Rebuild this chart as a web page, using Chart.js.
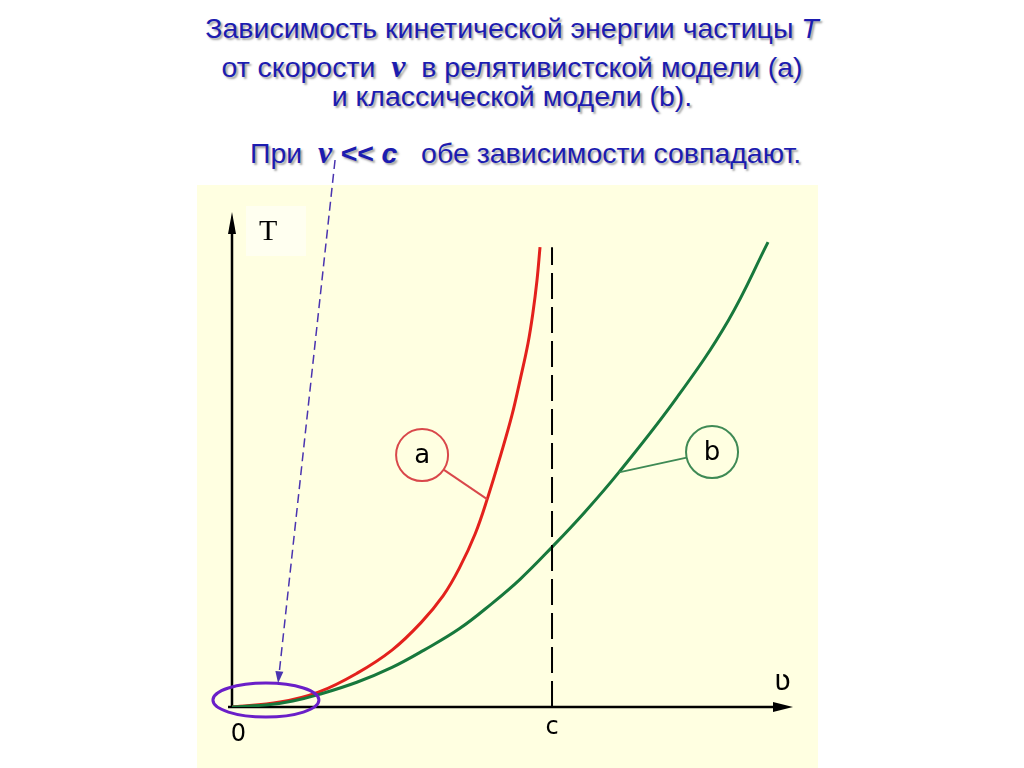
<!DOCTYPE html>
<html>
<head>
<meta charset="utf-8">
<script src="https://cdn.jsdelivr.net/npm/chart.js@4"></script>
<style>
  html, body { margin: 0; padding: 0; background: #fff; }
  body { width: 1024px; height: 768px; position: relative; overflow: hidden; font-family: "Liberation Sans", Arial, sans-serif; }
  .panel { position: absolute; left: 197px; top: 185px; width: 621px; height: 583px; background: #ffffe1; }
  .tbox { position: absolute; left: 246px; top: 206px; width: 60px; height: 50px; background: #fffff0; }
  .ttl { position: absolute; left: 0; width: 1024px; text-align: center; color: #1c1cb0; font-size: 28.5px;
         text-shadow: 2px 2px 2px rgba(90,90,90,0.55); white-space: nowrap; }
  .sv { font-family: "Liberation Serif", serif; font-style: italic; font-weight: bold; font-size: 32px; }
  .sc { font-style: italic; font-weight: bold; }
  canvas { position: absolute; left: 0; top: 0; }
</style>
</head>
<body>
<div class="panel"></div>
<div class="tbox"></div>
<div class="ttl" style="top:12px">Зависимость кинетической энергии частицы <i>T</i></div>
<div class="ttl" style="top:48px">от скорости &nbsp;<span class="sv">v</span>&nbsp; в релятивистской модели (а)</div>
<div class="ttl" style="top:80px">и классической модели (b).</div>
<div class="ttl" style="top:134px; left:250px; width:auto; text-align:left">При &nbsp;<span class="sv">v</span> <span class="sc">&lt;&lt; c</span> &nbsp; обе зависимости совпадают.</div>
<canvas id="chart" width="1024" height="768"></canvas>
<script>
// v in units of c, T in arbitrary units
const relV = [0, 0.15, 0.27, 0.39, 0.50, 0.59, 0.66, 0.71, 0.76, 0.80, 0.84, 0.875, 0.90, 0.925, 0.94, 0.953, 0.9625];
const relT = [0, 0.10, 0.30, 0.68, 1.15, 1.70, 2.25, 2.80, 3.50, 4.25, 5.10, 5.90, 6.60, 7.35, 7.95, 8.62, 9.29];
const clsV = [0, 0.12, 0.19, 0.27, 0.39, 0.50, 0.60, 0.71, 0.81, 0.90, 1.00, 1.10, 1.21, 1.39, 1.55, 1.675];
const clsT = [0, 0.05, 0.12, 0.25, 0.50, 0.80, 1.15, 1.58, 2.08, 2.58, 3.23, 3.92, 4.75, 6.25, 7.80, 9.39];
const lightV = [1, 1];
const lightT = [0, 9.29];
const vMax = 1.753;
const tMax = 10;

const pts = (xs, ys) => xs.map((x, i) => ({ x, y: ys[i] }));

const extras = {
  id: "extras",
  beforeDatasetsDraw(chart) {
    const ctx = chart.ctx, a = chart.chartArea;
    const x0 = chart.scales.x.getPixelForValue(0), y0 = chart.scales.y.getPixelForValue(0);
    ctx.save();
    ctx.strokeStyle = "#000"; ctx.fillStyle = "#000"; ctx.lineWidth = 2.5;
    ctx.beginPath(); ctx.moveTo(x0, y0 + 1); ctx.lineTo(x0, a.top + 14); ctx.stroke();
    ctx.beginPath(); ctx.moveTo(x0, a.top); ctx.lineTo(x0 - 4, a.top + 22); ctx.lineTo(x0 + 4, a.top + 22); ctx.closePath(); ctx.fill();
    ctx.beginPath(); ctx.moveTo(x0 - 4, y0); ctx.lineTo(a.right - 12, y0); ctx.stroke();
    ctx.beginPath(); ctx.moveTo(a.right, y0); ctx.lineTo(a.right - 20, y0 - 5); ctx.lineTo(a.right - 20, y0 + 5); ctx.closePath(); ctx.fill();
    ctx.restore();
  },
  afterDatasetsDraw(chart) {
    const ctx = chart.ctx;
    const X = v => chart.scales.x.getPixelForValue(v), Y = t => chart.scales.y.getPixelForValue(t);
    ctx.save();
    ctx.fillStyle = "#000"; ctx.textAlign = "center"; ctx.textBaseline = "middle";
    ctx.font = "30px 'Liberation Serif'";
    ctx.fillText("T", X(0.113), Y(9.6));
    ctx.font = "28px 'DejaVu Sans'";
    ctx.fillText("ʋ", X(1.72), Y(0.5));
    ctx.font = "24px 'DejaVu Sans'";
    ctx.fillText("0", X(0.02), Y(-0.57));
    ctx.fillText("c", X(1.0), Y(-0.42));

    // labelled circles with leaders
    const tag = (txt, cv, ct, lv, lt, col) => {
      const cx = X(cv), cy = Y(ct), r = 26, lx = X(lv), ly = Y(lt);
      const ang = Math.atan2(ly - cy, lx - cx);
      ctx.strokeStyle = col; ctx.lineWidth = 2;
      ctx.beginPath(); ctx.arc(cx, cy, r, 0, Math.PI * 2); ctx.stroke();
      ctx.beginPath(); ctx.moveTo(cx + r * Math.cos(ang), cy + r * Math.sin(ang)); ctx.lineTo(lx, ly); ctx.stroke();
      ctx.fillStyle = "#000"; ctx.font = "26px 'DejaVu Sans'";
      ctx.fillText(txt, cx, cy + 1);
    };
    tag("a", 0.594, 5.09, 0.797, 4.20, "#d9484b");
    tag("b", 1.5, 5.15, 1.209, 4.74, "#3f8a55");

    // low-speed region
    ctx.strokeStyle = "#6a1fc8"; ctx.lineWidth = 3;
    ctx.beginPath(); ctx.ellipse(X(0.106), Y(0.14), 53, 17, 0, 0, Math.PI * 2); ctx.stroke();
    const ax1 = X(0.322), ay1 = Y(11.05), ax2 = X(0.144), ay2 = Y(0.48);
    const ang = Math.atan2(ay2 - ay1, ax2 - ax1);
    ctx.strokeStyle = "#4a34b0"; ctx.fillStyle = "#4a34b0"; ctx.lineWidth = 1.5;
    ctx.setLineDash([9, 5]);
    ctx.beginPath(); ctx.moveTo(ax1, ay1); ctx.lineTo(ax2 - 10 * Math.cos(ang), ay2 - 10 * Math.sin(ang)); ctx.stroke();
    ctx.setLineDash([]);
    ctx.beginPath(); ctx.moveTo(ax2, ay2);
    ctx.lineTo(ax2 - 12 * Math.cos(ang) + 4 * Math.sin(ang), ay2 - 12 * Math.sin(ang) - 4 * Math.cos(ang));
    ctx.lineTo(ax2 - 12 * Math.cos(ang) - 4 * Math.sin(ang), ay2 - 12 * Math.sin(ang) + 4 * Math.cos(ang));
    ctx.closePath(); ctx.fill();
    ctx.restore();
  }
};

new Chart(document.getElementById("chart"), {
  type: "scatter",
  data: {
    datasets: [
      { label: "c", data: pts(lightV, lightT), showLine: true, borderColor: "#000", borderWidth: 2, borderDash: [26, 8], pointRadius: 0 },
      { label: "b", data: pts(clsV, clsT), showLine: true, borderColor: "#17783c", borderWidth: 3, pointRadius: 0, tension: 0.4 },
      { label: "a", data: pts(relV, relT), showLine: true, borderColor: "#e3211c", borderWidth: 3, pointRadius: 0, tension: 0.4 }
    ]
  },
  options: {
    responsive: false,
    animation: false,
    devicePixelRatio: 1,
    layout: { padding: { left: 232, right: 231, top: 212, bottom: 61 } },
    scales: {
      x: { type: "linear", min: 0, max: vMax, display: false },
      y: { type: "linear", min: 0, max: tMax, display: false }
    },
    plugins: { legend: { display: false }, tooltip: { enabled: false } }
  },
  plugins: [extras]
});
</script>
</body>
</html>
